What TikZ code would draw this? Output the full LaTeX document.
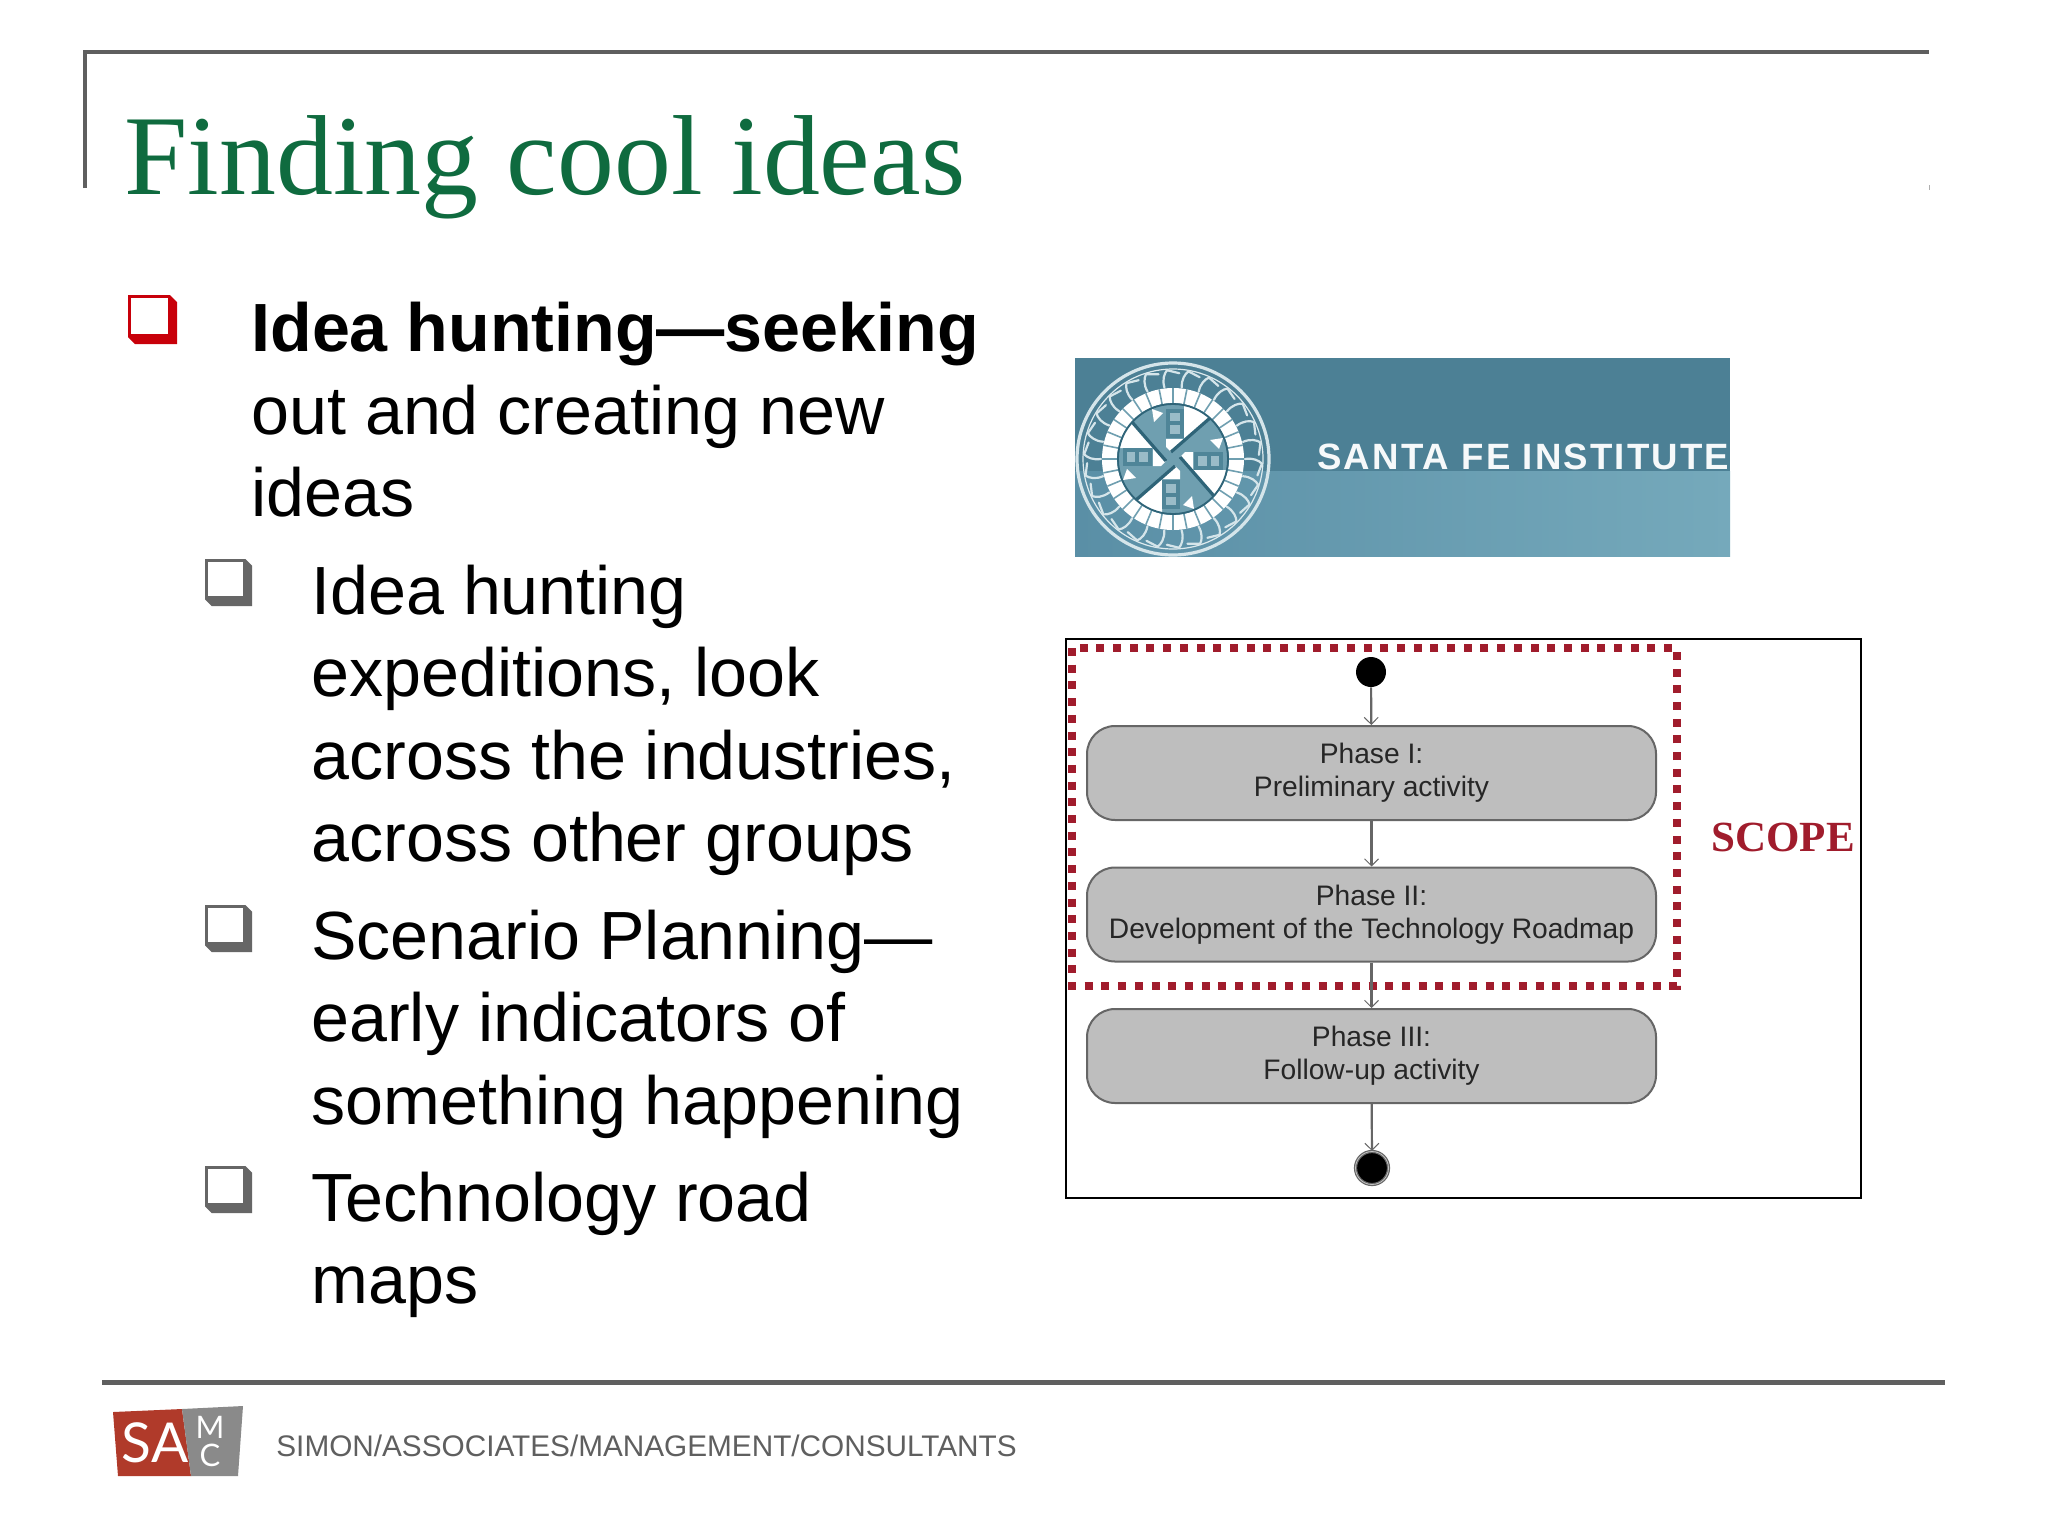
\documentclass[tikz,border=0pt]{standalone}
\usepackage{fontspec}
\setmainfont{Liberation Sans}
\newfontfamily\titlefont{Liberation Serif}
\newfontfamily\logofont{Lato}
\usetikzlibrary{arrows.meta}
\definecolor{titlegreen}{HTML}{0F6B3F}
\definecolor{rulegrey}{HTML}{5F5F5F}
\definecolor{bulred}{HTML}{C8000A}
\definecolor{bulgrey}{HTML}{666666}
\definecolor{dotred}{HTML}{A01C2C}
\definecolor{boxgrey}{HTML}{BEBEBE}
\definecolor{sfidark}{HTML}{4C8095}
\definecolor{sfilow}{HTML}{5A8FA6}
\definecolor{sfilowr}{HTML}{75A9BB}
\definecolor{sfiline}{HTML}{2F6478}
\definecolor{sfiteal}{HTML}{6F9FB0}
\definecolor{sfisq}{HTML}{4F8598}
\definecolor{sfipale}{HTML}{D5E5EA}
\definecolor{samred}{HTML}{B03A2A}
\definecolor{samgrey}{HTML}{8A8A8A}
\tikzset{
  bodytext/.style={anchor=north west,inner sep=0pt,align=left,text=black,
    font=\fontsize{34.1}{41.2}\selectfont},
  phasebox/.style={draw=bulgrey,line width=1pt,fill=boxgrey,rounded corners=14pt,
    minimum width=284.5pt,minimum height=47pt,inner sep=0pt,align=center,text=black!85,
    font=\fontsize{14.1}{16.6}\selectfont},
  conn/.style={draw=bulgrey,line width=1.1pt,-{Straight Barb[length=3.5pt,width=7pt,line width=.5pt]}},
  toprule/.style={draw=rulegrey,line width=2pt},
  bulletbox/.pic={
    \fill[pic actions] (0,0) -- (42,0) -- (49,7) -- (49,49) -- (7,49) -- (0,42) -- cycle;
    \fill[white] (3,3) rectangle (40,39);
  }
}
\begin{document}
\begin{tikzpicture}[x=.5pt,y=-.5pt]
\useasboundingbox (0,0) rectangle (2048,1536);
\fill[white] (0,0) rectangle (2048,1536);
% frame
\draw[toprule] (85,188) -- (85,52) -- (1929,52);
\draw[draw=rulegrey!50,line width=.5pt] (1929,185) -- (1929,190);
\node[anchor=base west,inner sep=0pt,text=titlegreen,font=\titlefont\fontsize{56.9}{60}\selectfont] (title) at (124,194) {Finding cool ideas};
% bullets
\pic[fill=bulred] at (128,295) {bulletbox};
\pic[fill=bulgrey,scale=.96] at (205,559) {bulletbox};
\pic[fill=bulgrey,scale=.96] at (205,905) {bulletbox};
\pic[fill=bulgrey,scale=.96] at (205,1166) {bulletbox};
% body
\node[bodytext] (b1) at (251,302) {\textbf{Idea hunting—seeking}\\out and creating new\\ideas};
\node[bodytext] (b2) at (311,564.5) {Idea hunting\\expeditions, look\\across the industries,\\across other groups};
\node[bodytext] (b3) at (311,909.5) {Scenario Planning—\\early indicators of\\something happening};
\node[bodytext] (b4) at (311,1171.5) {Technology road\\maps};
% Santa Fe logo
\fill[sfidark] (1075,358) rectangle (1730,471);
\shade[left color=sfilow,right color=sfilowr] (1075,471) rectangle (1730,556);
\begin{scope}[shift={(1173,459)}]
  \draw[sfipale,line width=1.6pt] (0,0) circle[radius=96];
  \draw[sfipale!80,line width=.6pt] (0,0) circle[radius=90];
  \foreach \a in {0,13.85,...,359} {
    \draw[sfipale,line width=1.1pt,line cap=round]
      (\a:72) .. controls (\a-1:80) and (\a+1:86) .. (\a+3:89) -- (\a+11:86);
  }
  \draw[white,line width=7.5pt] (0,0) circle[radius=63.5];
  \foreach \a in {0,11.25,...,359} {
    \draw[sfiteal,line width=.8pt] (\a:55) -- (\a:71);
  }
  \fill[sfiteal] (0,0) circle[radius=55];
  \foreach \r in {0,90,180,270} {
    \begin{scope}[rotate=\r]
      \fill[white] (11,-54) arc[start angle=-78,end angle=-48,radius=55] -- (-2,-7) -- (-7,-12) -- (-7,-20) -- (11,-20) -- cycle;
      \fill[white] (-21,-50) -- (-10,-46) -- (-19,-37) -- cycle;
      \fill[sfisq] (-7,-50) rectangle (11,-21);
      \fill[sfiteal!70!white] (-3,-46) rectangle (7,-38);
      \fill[sfiteal!70!white] (-3,-34) rectangle (7,-25);
      \draw[sfiline,line width=1.6pt] (-2,-7) -- (37,-41);
    \end{scope}
  }
  \draw[sfiline,line width=.9pt] (0,0) circle[radius=55];
\end{scope}
\begin{scope}
  \clip (1075,358) rectangle (1730,556);
  \node[anchor=west,inner sep=0pt,text=white!95!sfidark,font=\bfseries\fontsize{18.3}{20}\selectfont\addfontfeatures{LetterSpace=5.9}] (sfi) at (1317,457) {SANTA FE INSTITUTE};
\end{scope}
% diagram
\draw[black,line width=1.2pt] (1066,639) rectangle (1861,1198);
\draw[dotred,line width=4pt,dash pattern=on 4pt off 4.35pt] (1072,648) rectangle (1677,986);
\node[fill=black,circle,minimum size=15pt,inner sep=0pt] (startdot) at (1371,672) {};
\node[phasebox] (p1) at (1371.5,773) {Phase I:\\Preliminary activity};
\node[phasebox] (p2) at (1371.5,914.5) {Phase II:\\Development of the Technology Roadmap};
\node[phasebox] (p3) at (1371.5,1056) {Phase III:\\Follow-up activity};
\node[draw=bulgrey,double=white!60!bulgrey,double distance=.4pt,line width=.6pt,fill=black,circle,minimum size=16.5pt,inner sep=0pt] (stopdot) at (1372,1168) {};
\draw[conn] (startdot) -- (p1);
\draw[conn] (p1) -- (p2);
\draw[conn] (p2) -- (p3);
\draw[conn] (p3) -- (stopdot);
\node[text=dotred,inner sep=0pt,font=\titlefont\bfseries\fontsize{21.5}{24}\selectfont] (scope) at (1783,837) {SCOPE};
% footer
\draw[rulegrey,line width=2.5pt] (102,1382) -- (1945,1382);
\fill[samred] (113,1412) -- (182,1409) -- (191,1476) -- (118,1476) -- cycle;
\fill[samgrey] (182,1409) -- (243,1406) -- (238,1476) -- (191,1476) -- cycle;
\node[text=white,inner sep=0pt,font=\logofont\fontsize{27.5}{30}\selectfont] (sa) at (155,1443) {SA};
\node[text=white,inner sep=0pt,font=\logofont\fontsize{15.5}{17}\selectfont] (mm) at (210,1427) {M};
\node[text=white,inner sep=0pt,font=\logofont\fontsize{15.5}{17}\selectfont] (cc) at (210,1455) {C};
\node[anchor=west,inner sep=0pt,text=rulegrey,font=\fontsize{14.87}{18}\selectfont] (foot) at (276,1446) {SIMON/ASSOCIATES/MANAGEMENT/CONSULTANTS};
\end{tikzpicture}
\end{document}
